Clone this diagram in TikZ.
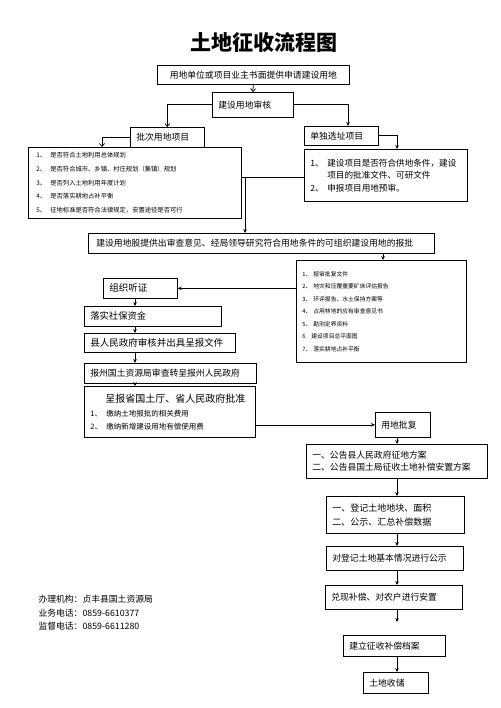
\documentclass[tikz,border=0pt]{standalone}
\usepackage{fontspec}
\setmainfont{Noto Sans CJK SC}
\usetikzlibrary{arrows.meta}

\newcommand{\itm}[2]{\makebox[#1][l]{#2}}

\begin{document}
\begin{tikzpicture}[x=1pt,y=-1pt,>={Stealth[length=4pt,width=3.6pt]},
  box/.style={draw,line width=0.7pt,anchor=north west,inner xsep=6pt,inner ysep=0pt,align=left},
  txt/.style={font=\fontsize{8.8}{12.5}\selectfont},
  small/.style={font=\fontsize{6.3}{13.7}\selectfont},
  tiny/.style={font=\fontsize{5.8}{12.5}\selectfont},
  link/.style={line width=0.7pt,->},
  barb/.style={line width=0.7pt,-{Straight Barb[length=3pt,width=5pt]}}]

\useasboundingbox (0,0) rectangle (500,708);

% ============================================================
% 1. APPLICATION AND AUDIT
% ============================================================

\node[font=\fontsize{21}{21}\selectfont\bfseries] (title) at (264,43) {土地征收流程图};

\node[box,txt,text width=180pt,minimum height=19pt,align=center] (req) at (157,65)
  {用地单位或项目业主书面提供申请建设用地};
\node[box,txt,text width=69pt,minimum height=25pt] (audit) at (212,92) {建设用地审核};
\node[box,txt,text width=62pt,minimum height=20pt] (batch) at (130,127) {批次用地项目};
\node[box,txt,text width=62pt,minimum height=19pt] (single) at (304,126) {单独选址项目};

% batch checklist
\node[box,small,inner xsep=8pt,text width=197pt,minimum height=71pt] (batchlist) at (28,147)
  {\itm{14pt}{1、}是否符合土地利用总体规划\\
   \itm{14pt}{2、}是否符合城市、乡镇、村庄规划（集镇）规划\\
   \itm{14pt}{3、}是否列入土地利用年度计划\\
   \itm{14pt}{4、}是否落实耕地占补平衡\\
   \itm{14pt}{5、}征地标准是否符合法律规定，安置途径是否可行};

% single site checklist
\node[box,font=\fontsize{8.6}{12.5}\selectfont,text width=151pt,minimum height=52pt] (singlelist) at (304,149)
  {\itm{17pt}{1、}建设项目是否符合供地条件，建设\\
   \hspace*{17pt}项目的批准文件、可研文件\\
   \itm{17pt}{2、}申报项目用地预审。};

\node[box,txt,inner xsep=8pt,text width=330pt,minimum height=20pt] (report) at (88,233)
  {建设用地股提供出审查意见、经局领导研究符合用地条件的可组织建设用地的报批};

% documents for approval
\node[box,tiny,text width=158pt,minimum height=102pt] (docs) at (296,260)
  {\itm{11pt}{1、}报审批复文件\\
   \itm{11pt}{2、}地灾和压覆重要矿床评估报告\\
   \itm{11pt}{3、}环评报告、水土保持方案等\\
   \itm{11pt}{4、}占用林地的应有审查意见书\\
   \itm{11pt}{5、}勘测定界资料\\
   \itm{9pt}{6}建设项目总平面图\\
   \itm{11pt}{7、}落实耕地占补平衡};

% ============================================================
% 2. APPROVAL CHAIN (LEFT)
% ============================================================

\node[box,font=\fontsize{9.5}{12}\selectfont,text width=62pt,minimum height=20pt] (hear) at (103,278) {组织听证};
\node[box,font=\fontsize{9.3}{12}\selectfont,text width=125pt,minimum height=20pt] (fund) at (84,306) {落实社保资金};
\node[box,font=\fontsize{9.5}{12}\selectfont,text width=139pt,minimum height=19pt] (county) at (84,333) {县人民政府审核并出具呈报文件};
\node[box,txt,text width=160pt,minimum height=20pt] (pref) at (84,363) {报州国土资源局审查转呈报州人民政府};
\node[box,font=\fontsize{7.5}{13}\selectfont,text width=159pt,minimum height=51pt] (prov) at (84,386)
  {\hspace*{15pt}{\fontsize{10}{10}\selectfont 呈报省国土厅、省人民政府批准}\\[1pt]
   \itm{16pt}{1、}缴纳土地报批的相关费用\\
   \itm{16pt}{2、}缴纳新增建设用地有偿使用费};

% ============================================================
% 3. ACQUISITION CHAIN (RIGHT)
% ============================================================

\node[box,txt,text width=43pt,minimum height=25pt] (reply) at (375,412) {用地批复};
\node[box,txt,text width=169pt,minimum height=34pt] (notice) at (306,444)
  {一、公告县人民政府征地方案\\二、公告县国土局征收土地补偿安置方案};
\node[box,font=\fontsize{9}{13.5}\selectfont,text width=126pt,minimum height=37pt] (reg) at (326,496)
  {一、登记土地地块、面积\\二、公示、汇总补偿数据};
\node[box,txt,text width=125pt,minimum height=24pt] (pub) at (326,546) {对登记土地基本情况进行公示};
\node[box,txt,text width=125pt,minimum height=24pt] (pay) at (325,585) {兑现补偿、对农户进行安置};
\node[box,txt,text width=90pt,minimum height=21pt] (archive) at (343,635) {建立征收补偿档案};
\node[box,txt,text width=53pt,minimum height=21pt] (store) at (363,672) {土地收储};

% contact info
\node[txt,anchor=north west,align=left,font=\fontsize{8.8}{13.5}\selectfont] (info) at (35,592)
  {办理机构：贞丰县国土资源局\\业务电话：0859-6610377\\监督电话：0859-6611280};

% ============================================================
% 4. CONNECTORS
% ============================================================

\coordinate (bn) at (102,147);
\coordinate (sn) at (348,126);
\coordinate (ln) at (397,149);
\coordinate (jn) at (245,177);
\coordinate (dn) at (383,260);
\coordinate (lx) at (135,0);
\coordinate (rx) at (397,0);
\coordinate (gap) at (397,622);

\draw[barb] (req.south) -- (audit.north);
\draw[barb] (audit.west) -| (batch.north);
\draw[link] (audit.east) -| (sn);
\draw[barb] (batch.west) -| (bn);
\draw[link] (single.east) -| (ln);

\draw[line width=0.7pt] (batchlist.east |- jn) -- (singlelist.west |- jn);
\draw[link] (jn) -- (jn |- report.north);
\draw[link] (dn |- report.south) -- (dn);
\draw[link] (docs.west |- hear.east) -- (hear.east);

\foreach \a/\b in {hear/fund,fund/county,county/pref,pref/prov}
  \draw[link] (\a.south -| lx) -- (\b.north -| lx);

\draw[link] (prov.east |- reply.west) -- (reply.west);

\foreach \a/\b in {reply/notice,notice/reg,reg/pub,pub/pay,archive/store}
  \draw[link] (\a.south -| rx) -- (\b.north -| rx);
\draw[link] (pay.south -| rx) -- (gap);

\end{tikzpicture}
\end{document}
